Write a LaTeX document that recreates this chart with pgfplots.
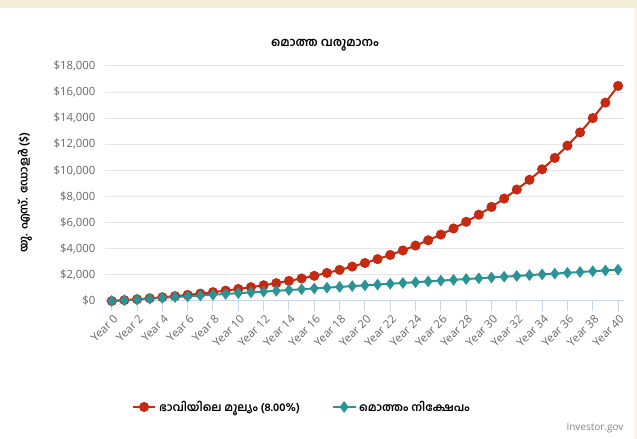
\documentclass[border=0pt]{standalone}
\usepackage{fontspec}
\setmainfont{Open Sans}
\newfontfamily\mlfont[Script=Malayalam]{Hind Kochi}
\usepackage{pgfplots}
\pgfplotsset{compat=1.18}
\definecolor{fvred}{HTML}{C42A12}
\definecolor{invteal}{HTML}{2B9396}
\definecolor{gridgray}{HTML}{E6E6E6}
\definecolor{axisblue}{HTML}{CCD6EB}
\definecolor{labgray}{HTML}{666666}
\definecolor{beige}{HTML}{F3EDD8}

% future value (8.00%) and total invested, per year
\pgfplotstableread{
year fv invested
0 0 0
1 64 60
2 132 120
3 206 180
4 287 240
5 373 300
6 467 360
7 567 420
8 676 480
9 794 540
10 921 600
11 1059 660
12 1207 720
13 1367 780
14 1540 840
15 1727 900
16 1929 960
17 2147 1020
18 2382 1080
19 2636 1140
20 2911 1200
21 3207 1260
22 3527 1320
23 3873 1380
24 4246 1440
25 4650 1500
26 5085 1560
27 5556 1620
28 6064 1680
29 6612 1740
30 7205 1800
31 7845 1860
32 8537 1920
33 9282 1980
34 10089 2040
35 10959 2100
36 11899 2160
37 12915 2220
38 14012 2280
39 15197 2340
40 16475 2400
}\growth

\begin{document}
\begin{tikzpicture}
\useasboundingbox (0,0) rectangle (477.75pt,329.25pt);
\fill[beige] (0,323.25pt) rectangle (477.75pt,329.25pt);
\fill[beige!60] (475.5pt,0) rectangle (477.75pt,323.25pt);
\node[font=\mlfont\bfseries\fontsize{9}{11}\selectfont] at (243.75pt,295.5pt) {മൊത്ത വരുമാനം};
\node[rotate=90,font=\mlfont\bfseries\fontsize{8.5}{10}\selectfont] at (18.75pt,184.5pt) {യു. എസ്. ഡോളർ (\$)};
\node[text=labgray!80,font=\fontsize{7.5}{9}\selectfont] at (446.25pt,8.25pt) {Investor.gov};

\begin{axis}[
  at={(79.05pt,103.5pt)}, anchor=south west,
  scale only axis,
  width=389.25pt, height=176.25pt,
  xmin=-0.5, xmax=40.5,
  ymin=0, ymax=18000,
  axis x line*=bottom,
  axis y line*=left,
  y axis line style={draw=none},
  x axis line style={color=axisblue,line width=0.75pt},
  xtick={0,2,...,40},
  ytick={0,2000,...,18000},
  xtick align=outside,
  major tick length=7.5pt,
  xtick style={color=axisblue,line width=0.75pt},
  ytick style={draw=none},
  ymajorgrids,
  grid style={color=gridgray,line width=0.75pt},
  tick label style={text=labgray,font=\fontsize{8.5}{10}\selectfont},
  xticklabel={Year \pgfmathprintnumber[fixed,precision=0]{\tick}},
  xticklabel style={rotate=45,anchor=north east,inner sep=1pt,yshift=-1pt},
  yticklabel={\$\pgfmathprintnumber{\tick}},
  yticklabel style={xshift=-4pt},
  /pgf/number format/.cd, fixed, precision=0, 1000 sep={,}, assume math mode=true,
  /pgfplots/.cd,
  scaled y ticks=false,
  clip=false,
  legend columns=2,
  legend style={at={(0.379,-0.451)},anchor=center,draw=none,fill=none,
    font=\mlfont\bfseries\fontsize{8.5}{10}\selectfont,
    /tikz/every even column/.append style={column sep=22pt}},
]
\addplot[color=fvred,line width=1.5pt,mark=*,mark size=3pt] table[x=year,y=fv] {\growth};
\addlegendentry{ഭാവിയിലെ മൂല്യം (8.00\%)}
\addplot[color=invteal,line width=1.5pt,mark=diamond*,mark size=3.2pt] table[x=year,y=invested] {\growth};
\addlegendentry{മൊത്തം നിക്ഷേപം}
\end{axis}
\end{tikzpicture}
\end{document}
